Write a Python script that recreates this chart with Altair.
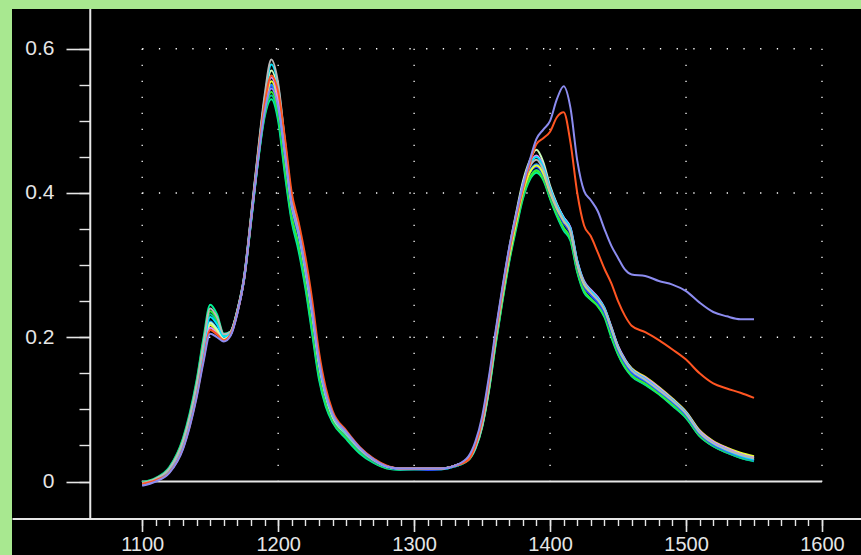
import altair as alt
import pandas as pd

# Wavelength grid (nm) shared by every spectrum
wavelength = [
    1100, 1110, 1120, 1130, 1135, 1140, 1145, 1150, 1155, 1160,
    1165, 1170, 1175, 1180, 1185, 1190, 1195, 1200, 1205, 1210,
    1215, 1220, 1225, 1230, 1235, 1240, 1250, 1260, 1270, 1280,
    1290, 1300, 1310, 1320, 1330, 1340, 1345, 1350, 1355, 1360,
    1365, 1370, 1375, 1380, 1385, 1390, 1395, 1400, 1405, 1410,
    1415, 1420, 1425, 1430, 1435, 1440, 1445, 1450, 1455, 1460,
    1470, 1480, 1490, 1500, 1510, 1520, 1530, 1540, 1550,
]

# Absorbance spectra, one list per sample
s_spring = [
    -0.001, 0.005, 0.020, 0.060, 0.095, 0.140, 0.198, 0.245, 0.232, 0.205,
    0.208, 0.236, 0.280, 0.358, 0.440, 0.505, 0.530, 0.500, 0.425, 0.360,
    0.320, 0.268, 0.205, 0.142, 0.104, 0.082, 0.059, 0.039, 0.026, 0.018,
    0.016, 0.017, 0.017, 0.017, 0.021, 0.030, 0.045, 0.075, 0.125, 0.190,
    0.250, 0.305, 0.350, 0.392, 0.418, 0.428, 0.418, 0.392, 0.368, 0.348,
    0.334, 0.290, 0.262, 0.252, 0.243, 0.228, 0.200, 0.176, 0.158, 0.146,
    0.134, 0.121, 0.105, 0.088, 0.063, 0.049, 0.040, 0.033, 0.029,
]
s_teal = [
    -0.002, 0.004, 0.019, 0.058, 0.092, 0.137, 0.194, 0.232, 0.222, 0.202,
    0.207, 0.236, 0.281, 0.359, 0.441, 0.508, 0.535, 0.505, 0.430, 0.364,
    0.326, 0.273, 0.210, 0.146, 0.107, 0.084, 0.061, 0.041, 0.027, 0.019,
    0.017, 0.017, 0.017, 0.017, 0.021, 0.030, 0.046, 0.076, 0.127, 0.192,
    0.252, 0.307, 0.353, 0.394, 0.421, 0.432, 0.421, 0.394, 0.370, 0.350,
    0.336, 0.292, 0.264, 0.253, 0.244, 0.230, 0.203, 0.177, 0.159, 0.147,
    0.135, 0.122, 0.106, 0.089, 0.063, 0.049, 0.040, 0.033, 0.028,
]
s_lime = [
    -0.002, 0.004, 0.018, 0.057, 0.090, 0.135, 0.192, 0.236, 0.225, 0.203,
    0.207, 0.236, 0.281, 0.360, 0.442, 0.510, 0.540, 0.510, 0.436, 0.368,
    0.330, 0.278, 0.215, 0.150, 0.110, 0.085, 0.062, 0.042, 0.028, 0.019,
    0.017, 0.017, 0.017, 0.018, 0.021, 0.030, 0.046, 0.076, 0.127, 0.193,
    0.253, 0.308, 0.354, 0.396, 0.421, 0.431, 0.420, 0.394, 0.371, 0.352,
    0.337, 0.293, 0.265, 0.253, 0.244, 0.230, 0.203, 0.178, 0.160, 0.148,
    0.136, 0.122, 0.107, 0.090, 0.064, 0.050, 0.041, 0.034, 0.030,
]
s_blue = [
    -0.004, 0.002, 0.015, 0.050, 0.082, 0.124, 0.177, 0.219, 0.210, 0.197,
    0.205, 0.235, 0.281, 0.361, 0.444, 0.515, 0.548, 0.520, 0.450, 0.379,
    0.341, 0.290, 0.230, 0.160, 0.117, 0.089, 0.065, 0.044, 0.029, 0.020,
    0.017, 0.017, 0.016, 0.017, 0.021, 0.031, 0.047, 0.078, 0.130, 0.197,
    0.257, 0.312, 0.359, 0.401, 0.428, 0.436, 0.425, 0.398, 0.376, 0.358,
    0.343, 0.298, 0.270, 0.258, 0.248, 0.234, 0.208, 0.182, 0.164, 0.151,
    0.139, 0.125, 0.110, 0.092, 0.066, 0.051, 0.042, 0.035, 0.030,
]
s_dodger = [
    -0.004, 0.002, 0.015, 0.050, 0.083, 0.125, 0.178, 0.222, 0.212, 0.198,
    0.205, 0.235, 0.281, 0.361, 0.444, 0.516, 0.550, 0.522, 0.452, 0.380,
    0.342, 0.290, 0.230, 0.160, 0.117, 0.089, 0.065, 0.044, 0.030, 0.020,
    0.018, 0.018, 0.018, 0.018, 0.022, 0.031, 0.047, 0.078, 0.130, 0.198,
    0.258, 0.313, 0.360, 0.403, 0.430, 0.440, 0.428, 0.402, 0.382, 0.366,
    0.352, 0.306, 0.276, 0.262, 0.251, 0.237, 0.211, 0.184, 0.166, 0.153,
    0.140, 0.126, 0.111, 0.093, 0.067, 0.052, 0.042, 0.035, 0.030,
]
s_yellow = [
    -0.004, 0.002, 0.014, 0.048, 0.080, 0.121, 0.172, 0.217, 0.208, 0.197,
    0.204, 0.235, 0.282, 0.362, 0.446, 0.518, 0.555, 0.527, 0.456, 0.383,
    0.345, 0.293, 0.234, 0.164, 0.119, 0.090, 0.066, 0.045, 0.030, 0.021,
    0.018, 0.018, 0.018, 0.018, 0.022, 0.031, 0.047, 0.077, 0.128, 0.196,
    0.256, 0.311, 0.358, 0.401, 0.428, 0.438, 0.427, 0.400, 0.378, 0.361,
    0.346, 0.301, 0.273, 0.262, 0.253, 0.239, 0.213, 0.187, 0.169, 0.157,
    0.145, 0.131, 0.115, 0.097, 0.071, 0.056, 0.047, 0.040, 0.035,
]
s_pale = [
    -0.003, 0.003, 0.016, 0.051, 0.084, 0.126, 0.179, 0.220, 0.211, 0.198,
    0.206, 0.237, 0.284, 0.366, 0.451, 0.528, 0.570, 0.540, 0.465, 0.388,
    0.348, 0.296, 0.236, 0.166, 0.120, 0.091, 0.067, 0.046, 0.031, 0.021,
    0.018, 0.018, 0.018, 0.018, 0.022, 0.032, 0.049, 0.081, 0.135, 0.205,
    0.267, 0.324, 0.372, 0.416, 0.445, 0.460, 0.443, 0.410, 0.385, 0.366,
    0.350, 0.304, 0.276, 0.264, 0.254, 0.240, 0.214, 0.187, 0.168, 0.155,
    0.142, 0.128, 0.113, 0.095, 0.069, 0.054, 0.045, 0.038, 0.033,
]
s_violet = [
    -0.005, 0.001, 0.013, 0.047, 0.079, 0.120, 0.170, 0.213, 0.205, 0.195,
    0.203, 0.234, 0.282, 0.363, 0.447, 0.522, 0.560, 0.532, 0.462, 0.388,
    0.349, 0.298, 0.238, 0.168, 0.122, 0.093, 0.068, 0.046, 0.031, 0.021,
    0.018, 0.018, 0.018, 0.018, 0.022, 0.032, 0.048, 0.080, 0.133, 0.203,
    0.264, 0.320, 0.368, 0.412, 0.440, 0.452, 0.438, 0.407, 0.384, 0.366,
    0.352, 0.306, 0.278, 0.266, 0.256, 0.241, 0.215, 0.188, 0.170, 0.156,
    0.144, 0.130, 0.114, 0.096, 0.070, 0.055, 0.046, 0.038, 0.033,
]
s_cyan = [
    -0.003, 0.003, 0.017, 0.054, 0.087, 0.130, 0.185, 0.228, 0.218, 0.201,
    0.207, 0.237, 0.284, 0.366, 0.452, 0.530, 0.578, 0.548, 0.470, 0.390,
    0.349, 0.297, 0.238, 0.168, 0.121, 0.092, 0.067, 0.046, 0.031, 0.021,
    0.018, 0.018, 0.018, 0.018, 0.022, 0.031, 0.047, 0.079, 0.132, 0.201,
    0.262, 0.318, 0.366, 0.410, 0.438, 0.450, 0.436, 0.406, 0.383, 0.365,
    0.350, 0.305, 0.276, 0.264, 0.254, 0.240, 0.213, 0.186, 0.168, 0.155,
    0.142, 0.128, 0.113, 0.095, 0.068, 0.053, 0.044, 0.036, 0.031,
]
s_gray = [
    -0.002, 0.004, 0.018, 0.056, 0.090, 0.134, 0.190, 0.240, 0.228, 0.204,
    0.208, 0.238, 0.285, 0.368, 0.455, 0.535, 0.585, 0.552, 0.472, 0.392,
    0.350, 0.298, 0.238, 0.168, 0.122, 0.093, 0.068, 0.046, 0.031, 0.021,
    0.018, 0.018, 0.018, 0.018, 0.022, 0.031, 0.047, 0.078, 0.131, 0.200,
    0.261, 0.317, 0.365, 0.408, 0.436, 0.446, 0.432, 0.403, 0.380, 0.362,
    0.347, 0.302, 0.275, 0.262, 0.252, 0.238, 0.212, 0.185, 0.167, 0.154,
    0.141, 0.127, 0.112, 0.094, 0.068, 0.053, 0.044, 0.037, 0.032,
]
s_orange = [
    -0.003, 0.002, 0.013, 0.046, 0.077, 0.118, 0.168, 0.210, 0.204, 0.196,
    0.204, 0.234, 0.281, 0.362, 0.446, 0.522, 0.563, 0.540, 0.476, 0.400,
    0.360, 0.312, 0.252, 0.180, 0.130, 0.098, 0.071, 0.048, 0.032, 0.022,
    0.018, 0.018, 0.018, 0.018, 0.022, 0.030, 0.050, 0.085, 0.140, 0.205,
    0.265, 0.320, 0.365, 0.405, 0.440, 0.468, 0.476, 0.485, 0.505, 0.512,
    0.470, 0.400, 0.355, 0.340, 0.318, 0.295, 0.275, 0.250, 0.230, 0.216,
    0.207, 0.196, 0.183, 0.169, 0.150, 0.136, 0.129, 0.123, 0.116,
]
s_purple = [
    -0.006, 0.000, 0.012, 0.045, 0.076, 0.116, 0.165, 0.205, 0.200, 0.194,
    0.202, 0.233, 0.281, 0.361, 0.443, 0.512, 0.545, 0.520, 0.455, 0.384,
    0.346, 0.296, 0.237, 0.168, 0.122, 0.094, 0.069, 0.047, 0.031, 0.021,
    0.018, 0.018, 0.018, 0.018, 0.022, 0.035, 0.055, 0.090, 0.145, 0.210,
    0.270, 0.325, 0.370, 0.410, 0.445, 0.475, 0.488, 0.500, 0.530, 0.548,
    0.518, 0.445, 0.403, 0.390, 0.375, 0.350, 0.327, 0.310, 0.294, 0.287,
    0.285, 0.278, 0.273, 0.264, 0.248, 0.235, 0.229, 0.225, 0.225,
]

# Drawing order (first drawn at the bottom) and line colours
sample_names = ["S01", "S02", "S03", "S04", "S05", "S06",
                "S07", "S08", "S09", "S10", "S11", "S12"]
sample_values = [s_spring, s_teal, s_lime, s_blue, s_dodger, s_yellow,
                 s_pale, s_violet, s_cyan, s_gray, s_orange, s_purple]
sample_colors = ["#00f596", "#00c8a0", "#33ee33", "#2846ff", "#1e90ff", "#e6ff33",
                 "#ccffbb", "#dd88ff", "#00e5ff", "#b8b8b8", "#ff5522", "#8c8cf0"]

# Tick and grid positions
grid_x = [1100, 1200, 1300, 1400, 1500, 1600]
grid_y = [0.2, 0.4, 0.6]
minor_x = [1100, 1110, 1120, 1130, 1140, 1150, 1160, 1170, 1180, 1190,
           1200, 1210, 1220, 1230, 1240, 1250, 1260, 1270, 1280, 1290,
           1300, 1310, 1320, 1330, 1340, 1350, 1360, 1370, 1380, 1390,
           1400, 1410, 1420, 1430, 1440, 1450, 1460, 1470, 1480, 1490,
           1500, 1510, 1520, 1530, 1540, 1550, 1560, 1570, 1580, 1590, 1600]
major_y = [0, 0.2, 0.4, 0.6]
minor_y = [0, 0.05, 0.1, 0.15, 0.2, 0.25, 0.3, 0.35, 0.4, 0.45, 0.5, 0.55, 0.6]

rows = []
for name, vals in zip(sample_names, sample_values):
    assert len(vals) == len(wavelength), name
    for nm, v in zip(wavelength, vals):
        rows.append({"sample": name, "nm": nm, "absorbance": v})
spectra = pd.DataFrame(rows)

# Scale extents: the view covers the whole black panel, axes sit inside it
X_DOMAIN = [1004.24, 1628.69]
Y_DOMAIN = [-0.1019, 0.6551]
Y_AXIS_AT = 1061.8      # wavelength where the vertical axis line stands
X_AXIS_AT = -0.0513     # absorbance where the horizontal axis line stands

xs = alt.Scale(domain=X_DOMAIN, nice=False, zero=False)
ys = alt.Scale(domain=Y_DOMAIN, nice=False, zero=False)

AX = "#e6e6e6"
FONT = "Liberation Sans"

x_major_axis = alt.Axis(
    orient="bottom", offset=-36.5, values=grid_x, format="d", title=None,
    grid=False, domain=True, domainColor=AX, domainWidth=2,
    ticks=True, tickSize=13, tickWidth=1.6, tickColor=AX,
    labelFont=FONT, labelFontSize=20, labelColor=AX, labelPadding=3,
    labelFlush=False, labelOverlap=False,
)
x_minor_axis = alt.Axis(
    orient="bottom", offset=-36.5, values=minor_x, title=None, grid=False,
    domain=False, labels=False, tickSize=7, tickWidth=1.4, tickColor=AX,
)
y_major_axis = alt.Axis(
    orient="left", offset=-78, values=major_y, format="~g", title=None,
    grid=False, domain=False, ticks=True, tickSize=24, tickWidth=1.6,
    tickColor=AX, labelFont=FONT, labelFontSize=21, labelColor=AX,
    labelPadding=12, labelFlush=False, labelOverlap=False,
)
y_minor_axis = alt.Axis(
    orient="left", offset=-78, values=minor_y, title=None, grid=False,
    domain=False, labels=False, tickSize=11, tickWidth=1.4, tickColor=AX,
)

# Dotted vertical grid, also carrying the minor tick axes
vgrid = alt.Chart(pd.DataFrame({"gx": grid_x})).mark_rule(
    color="white", strokeWidth=1.3, strokeDash=[1.3, 14.7]
).encode(
    x=alt.X("gx:Q", scale=xs, axis=x_minor_axis),
    y=alt.YDatum(0.6, scale=ys, axis=y_minor_axis),
    y2=alt.Y2Datum(0),
)

# Dotted horizontal grid
hgrid = alt.Chart(pd.DataFrame({"gy": grid_y})).mark_rule(
    color="white", strokeWidth=1.3, strokeDash=[1.3, 15.4]
).encode(
    y=alt.Y("gy:Q", scale=ys, axis=None),
    x=alt.XDatum(1100, scale=xs, axis=None),
    x2=alt.X2Datum(1600),
)

# Solid zero baseline
zero_line = alt.Chart(pd.DataFrame({"z": [0]})).mark_rule(
    color=AX, strokeWidth=2
).encode(
    y=alt.Y("z:Q", scale=ys, axis=None),
    x=alt.XDatum(1100, scale=xs, axis=None),
    x2=alt.X2Datum(1600),
)

# Vertical axis line, stopping at the horizontal axis
y_axis_line = alt.Chart(pd.DataFrame({"a": [Y_AXIS_AT]})).mark_rule(
    color=AX, strokeWidth=2
).encode(
    x=alt.X("a:Q", scale=xs, axis=None),
    y=alt.YDatum(Y_DOMAIN[1], scale=ys, axis=None),
    y2=alt.Y2Datum(X_AXIS_AT),
)

# The spectra
lines = alt.Chart(spectra).mark_line(
    strokeWidth=2, strokeJoin="round", interpolate="monotone"
).encode(
    x=alt.X("nm:Q", scale=xs, axis=x_major_axis),
    y=alt.Y("absorbance:Q", scale=ys, axis=y_major_axis),
    color=alt.Color("sample:N",
                    scale=alt.Scale(domain=sample_names, range=sample_colors),
                    legend=None),
)

chart = alt.layer(vgrid, hgrid, zero_line, y_axis_line, lines).resolve_axis(
    x="independent", y="independent"
).properties(
    width=849,
    height=546,
    autosize=alt.AutoSizeParams(type="none"),
    padding={"left": 12, "top": 9, "right": 0, "bottom": 0},
    background="#a8e890",
).configure_view(fill="black", strokeWidth=0)

chart.save("out.html", embed_options={"renderer": "svg", "actions": False})
